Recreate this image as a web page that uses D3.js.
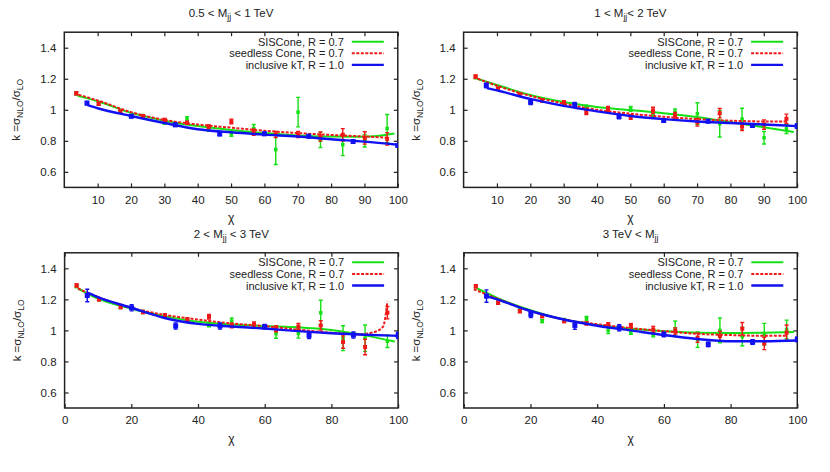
<!DOCTYPE html>
<html>
<head>
<meta charset="utf-8">
<script src="https://cdn.jsdelivr.net/npm/d3@7"></script>
<style>
  body { margin: 0; background: #fff; }
  svg text { font-family: "Liberation Sans", Arial, sans-serif; fill: #222; }
</style>
</head>
<body>
<svg width="830" height="472"></svg>
<script>
// chi bins of the cone algorithms and of kT
var chiCone = [3.6, 10.3, 16.8, 23.5, 30.1, 36.8, 43.3, 50.1, 56.8, 63.4, 70.1, 76.8, 83.5, 90.1, 96.8];
var chiKt = [6.8, 20.1, 33.3, 46.6, 60.0, 73.3, 86.6, 100.0];

// fit curve sample points
var fitChiSis = [4, 10, 20, 30, 40, 50, 60, 70, 80, 90, 99];
var fitChiSeed = [3, 10, 20, 30, 40, 50, 60, 70, 80, 90, 97];
var fitChiSeed3 = [4, 10, 20, 30, 40, 50, 60, 70, 80, 88, 93, 95.5, 96.8];
var fitChiKt = [7, 10, 20, 30, 40, 50, 60, 70, 80, 90, 100];

var titles = ["0.5 < M|jj| < 1 TeV", "1 < M|jj|< 2 TeV", "2 < M|jj| < 3 TeV", "3 TeV < M|jj|"];
var xTicksTop = [10, 20, 30, 40, 50, 60, 70, 80, 90, 100];
var xTicksBottom = [0, 20, 40, 60, 80, 100];
var yTicks = [0.6, 0.8, 1.0, 1.2, 1.4];
var yTickLabels = ["0.6", "0.8", "1", "1.2", "1.4"];
var legendLabels = ["SISCone, R = 0.7", "seedless Cone, R = 0.7", "inclusive kT, R = 1.0"];

// 0.5 < Mjj < 1 TeV
var sis1 = [1.105, 1.04, 0.99, 0.96, 0.916, 0.94, 0.871, 0.845, 0.88, 0.744, 0.985, 0.806, 0.775, 0.80, 0.88];
var sisErr1 = [0.01, 0.01, 0.01, 0.01, 0.01, 0.015, 0.01, 0.015, 0.025, 0.096, 0.095, 0.05, 0.07, 0.04, 0.09];
var seed1 = [1.107, 1.039, 0.989, 0.959, 0.935, 0.916, 0.892, 0.925, 0.856, 0.841, 0.841, 0.828, 0.839, 0.819, 0.813];
var seedErr1 = [0.01, 0.01, 0.01, 0.01, 0.01, 0.01, 0.01, 0.015, 0.02, 0.02, 0.02, 0.03, 0.04, 0.04, 0.04];
var kt1 = [1.043, 0.959, 0.903, 0.845, 0.845, 0.83, 0.796, 0.77];
var ktErr1 = [0.01, 0.01, 0.01, 0.012, 0.01, 0.01, 0.01, 0.01];
var sisFit1 = [1.09, 1.055, 0.98, 0.93, 0.895, 0.87, 0.85, 0.835, 0.828, 0.826, 0.847];
var seedFit1 = [1.105, 1.06, 0.985, 0.935, 0.905, 0.885, 0.865, 0.85, 0.838, 0.828, 0.82];
var ktFit1 = [1.03, 1.01, 0.96, 0.915, 0.875, 0.855, 0.84, 0.828, 0.81, 0.795, 0.775];

// 1 < Mjj < 2 TeV
var sis2 = [1.21, 1.14, 1.10, 1.06, 1.045, 1.02, 1.005, 1.006, 0.965, 0.985, 0.975, 0.91, 0.94, 0.82, 0.877];
var sisErr2 = [0.01, 0.01, 0.01, 0.01, 0.01, 0.01, 0.012, 0.015, 0.015, 0.02, 0.07, 0.085, 0.07, 0.04, 0.03];
var seed2 = [1.215, 1.135, 1.097, 1.06, 1.049, 0.985, 1.006, 0.953, 0.996, 0.963, 0.92, 0.978, 0.892, 0.905, 0.942];
var seedErr2 = [0.01, 0.01, 0.01, 0.01, 0.01, 0.015, 0.015, 0.015, 0.02, 0.02, 0.025, 0.03, 0.025, 0.03, 0.03];
var kt2 = [1.157, 1.049, 1.032, 0.957, 0.931, 0.927, 0.899, 0.895];
var ktErr2 = [0.015, 0.015, 0.015, 0.015, 0.01, 0.01, 0.01, 0.015];
var sisFit2 = [1.2, 1.16, 1.095, 1.05, 1.018, 0.998, 0.978, 0.953, 0.92, 0.888, 0.857];
var seedFit2 = [1.21, 1.155, 1.09, 1.04, 1.0, 0.975, 0.955, 0.94, 0.93, 0.925, 0.925];
var ktFit2 = [1.14, 1.125, 1.07, 1.025, 0.99, 0.96, 0.94, 0.925, 0.915, 0.905, 0.895];

// 2 < Mjj < 3 TeV
var sis3 = [1.285, 1.2, 1.15, 1.118, 1.097, 1.068, 1.039, 1.06, 1.03, 0.979, 0.98, 1.114, 0.95, 0.95, 0.93];
var sisErr3 = [0.01, 0.01, 0.01, 0.01, 0.01, 0.01, 0.015, 0.02, 0.015, 0.03, 0.03, 0.08, 0.08, 0.085, 0.04];
var seed3 = [1.29, 1.2, 1.15, 1.118, 1.097, 1.071, 1.088, 1.032, 1.039, 1.011, 1.024, 1.032, 0.925, 0.893, 1.114];
var seedErr3 = [0.01, 0.01, 0.01, 0.01, 0.01, 0.01, 0.015, 0.015, 0.015, 0.02, 0.02, 0.03, 0.04, 0.05, 0.04];
var kt3 = [1.225, 1.146, 1.028, 1.028, 1.024, 0.968, 0.97, 0.968];
var ktErr3 = [0.04, 0.02, 0.02, 0.02, 0.015, 0.02, 0.02, 0.02];
var sisFit3 = [1.27, 1.205, 1.14, 1.092, 1.055, 1.038, 1.028, 1.02, 1.002, 0.968, 0.928];
var seedFit3 = [1.27, 1.215, 1.145, 1.1, 1.07, 1.045, 1.028, 1.005, 0.985, 0.975, 0.99, 1.025, 1.185];
var ktFit3 = [1.242, 1.215, 1.146, 1.08, 1.042, 1.025, 1.012, 0.995, 0.982, 0.972, 0.965];

// 3 TeV < Mjj
var sis4 = [1.285, 1.178, 1.135, 1.06, 1.067, 1.075, 1.0, 0.99, 0.974, 1.01, 0.94, 1.0, 0.96, 0.975, 1.006];
var sisErr4 = [0.01, 0.01, 0.01, 0.01, 0.01, 0.015, 0.02, 0.015, 0.015, 0.05, 0.05, 0.08, 0.06, 0.07, 0.06];
var seed4 = [1.285, 1.178, 1.124, 1.092, 1.06, 1.045, 1.039, 1.032, 1.006, 0.996, 0.953, 0.964, 1.011, 0.916, 0.985];
var seedErr4 = [0.01, 0.01, 0.01, 0.01, 0.01, 0.01, 0.01, 0.012, 0.02, 0.02, 0.03, 0.03, 0.04, 0.04, 0.05];
var kt4 = [1.221, 1.103, 1.032, 1.017, 0.974, 0.91, 0.925, 0.942];
var ktErr4 = [0.04, 0.02, 0.025, 0.02, 0.015, 0.015, 0.015, 0.015];
var sisFit4 = [1.27, 1.21, 1.13, 1.07, 1.035, 1.01, 0.995, 0.985, 0.983, 0.985, 0.99];
var seedFit4 = [1.265, 1.205, 1.125, 1.07, 1.04, 1.015, 0.995, 0.978, 0.97, 0.965, 0.965];
var ktFit4 = [1.22, 1.2, 1.125, 1.07, 1.03, 1.0, 0.97, 0.945, 0.93, 0.93, 0.935];

var colors = { sis: "#14e014", seed: "#f01818", kt: "#1010f0" };

function main() {
  var svg = d3.select("svg");
  var pw = 333.5, ph = 155.2;

  var panels = [
    { left: 64.3, top: 32.2, xTicks: xTicksTop, title: titles[0],
      sis: sis1, sisErr: sisErr1, seed: seed1, seedErr: seedErr1, kt: kt1, ktErr: ktErr1,
      sisFit: sisFit1, seedFit: seedFit1, seedFitChi: fitChiSeed, ktFit: ktFit1 },
    { left: 463.6, top: 32.2, xTicks: xTicksTop, title: titles[1],
      sis: sis2, sisErr: sisErr2, seed: seed2, seedErr: seedErr2, kt: kt2, ktErr: ktErr2,
      sisFit: sisFit2, seedFit: seedFit2, seedFitChi: fitChiSeed, ktFit: ktFit2 },
    { left: 64.6, top: 252.8, xTicks: xTicksBottom, title: titles[2],
      sis: sis3, sisErr: sisErr3, seed: seed3, seedErr: seedErr3, kt: kt3, ktErr: ktErr3,
      sisFit: sisFit3, seedFit: seedFit3, seedFitChi: fitChiSeed3, ktFit: ktFit3 },
    { left: 463.8, top: 252.8, xTicks: xTicksBottom, title: titles[3],
      sis: sis4, sisErr: sisErr4, seed: seed4, seedErr: seedErr4, kt: kt4, ktErr: ktErr4,
      sisFit: sisFit4, seedFit: seedFit4, seedFitChi: fitChiSeed, ktFit: ktFit4 }
  ];

  panels.forEach(function (p) {
    var g = svg.append("g");
    var x = d3.scaleLinear().domain([0, 100]).range([p.left, p.left + pw]);
    var y = d3.scaleLinear().domain([0.5, 1.5]).range([p.top + ph, p.top]);

    // clip the marks to the frame
    var clipId = "clip" + Math.round(p.left) + Math.round(p.top);
    g.append("clipPath").attr("id", clipId)
      .append("rect").attr("x", p.left).attr("y", p.top).attr("width", pw).attr("height", ph);

    // axes, ticks pointing inwards on all four sides
    var ax = g.append("g").attr("transform", "translate(0," + (p.top + ph) + ")")
      .call(d3.axisBottom(x).tickValues(p.xTicks).tickSizeInner(-4).tickSizeOuter(0).tickPadding(8).tickFormat(d3.format("d")));
    g.append("g").attr("transform", "translate(0," + p.top + ")")
      .call(d3.axisTop(x).tickValues(p.xTicks).tickSizeInner(-4).tickSizeOuter(0).tickFormat(""));
    var ay = g.append("g").attr("transform", "translate(" + p.left + ",0)")
      .call(d3.axisLeft(y).tickValues(yTicks).tickSizeInner(-4).tickSizeOuter(0).tickPadding(8)
        .tickFormat(function (d, i) { return yTickLabels[i]; }));
    g.append("g").attr("transform", "translate(" + (p.left + pw) + ",0)")
      .call(d3.axisRight(y).tickValues(yTicks).tickSizeInner(-4).tickSizeOuter(0).tickFormat(""));
    g.selectAll(".domain").remove();
    g.selectAll(".tick line").attr("stroke", "#222").attr("stroke-width", 1.2);
    g.selectAll(".tick text").style("font-size", "11.5px").attr("fill", "#222");

    g.append("rect")
      .attr("x", p.left).attr("y", p.top).attr("width", pw).attr("height", ph)
      .attr("fill", "none").attr("stroke", "#222").attr("stroke-width", 1.5);

    // title with subscript jj
    var parts = p.title.split("|");
    var t = g.append("text").attr("x", p.left + pw / 2).attr("y", p.top - 15)
      .attr("text-anchor", "middle").style("font-size", "11.5px");
    t.append("tspan").text(parts[0]);
    t.append("tspan").attr("dy", 3).style("font-size", "8.5px").text(parts[1]);
    t.append("tspan").attr("dy", -3).text(parts[2]);

    // x label
    g.append("text").attr("x", p.left + pw / 2).attr("y", p.top + ph + 35)
      .attr("text-anchor", "middle").style("font-size", "12px").text("\u03c7");

    // y label, rotated
    var yl = g.append("text")
      .attr("transform", "translate(" + (p.left - 44) + "," + (p.top + ph / 2) + ") rotate(-90)")
      .attr("text-anchor", "middle").style("font-size", "11.5px");
    yl.append("tspan").text("k =\u03c3");
    yl.append("tspan").attr("dy", 3).style("font-size", "8.5px").text("NLO");
    yl.append("tspan").attr("dy", -3).text("/\u03c3");
    yl.append("tspan").attr("dy", 3).style("font-size", "8.5px").text("LO");

    var marks = g.append("g").attr("clip-path", "url(#" + clipId + ")");

    function series(chi, vals, errs, fitChi, fit, color, size, lineW, dash) {
      var pts = chi.map(function (c, i) { return { c: c, v: vals[i], e: errs[i] }; });
      var eg = marks.append("g").attr("stroke", color).attr("stroke-width", 1.4);
      pts.forEach(function (d) {
        eg.append("line").attr("x1", x(d.c)).attr("x2", x(d.c))
          .attr("y1", y(d.v - d.e)).attr("y2", y(d.v + d.e));
        [d.v - d.e, d.v + d.e].forEach(function (v) {
          eg.append("line").attr("x1", x(d.c) - 2).attr("x2", x(d.c) + 2)
            .attr("y1", y(v)).attr("y2", y(v));
        });
      });
      marks.append("g").selectAll("rect").data(pts).enter().append("rect")
        .attr("x", function (d) { return x(d.c) - size / 2; })
        .attr("y", function (d) { return y(d.v) - size / 2; })
        .attr("width", size).attr("height", size).attr("fill", color);

      var line = d3.line()
        .x(function (d, i) { return x(fitChi[i]); })
        .y(function (d) { return y(d); })
        .curve(d3.curveMonotoneX);
      marks.append("path").datum(fit).attr("d", line)
        .attr("fill", "none").attr("stroke", color).attr("stroke-width", lineW)
        .attr("stroke-dasharray", dash || null);
    }

    series(chiCone, p.sis, p.sisErr, fitChiSis, p.sisFit, colors.sis, 3.5, 2, null);
    series(chiCone, p.seed, p.seedErr, p.seedFitChi, p.seedFit, colors.seed, 4, 2, "3,1.5");
    series(chiKt, p.kt, p.ktErr, fitChiKt, p.ktFit, colors.kt, 5, 2.4, null);

    // legend
    var keys = [colors.sis, colors.seed, colors.kt];
    var dashes = [null, "3,1.5", null];
    legendLabels.forEach(function (lab, i) {
      var ly = p.top + 9.5 + i * 11.6;
      g.append("text").attr("x", p.left + pw - 54).attr("y", ly + 4)
        .attr("text-anchor", "end").style("font-size", "11px").text(lab);
      g.append("line").attr("x1", p.left + pw - 46).attr("x2", p.left + pw - 14)
        .attr("y1", ly).attr("y2", ly).attr("stroke", keys[i])
        .attr("stroke-width", i === 2 ? 2.4 : 2).attr("stroke-dasharray", dashes[i]);
    });
  });
}
main();
</script>
</body>
</html>
